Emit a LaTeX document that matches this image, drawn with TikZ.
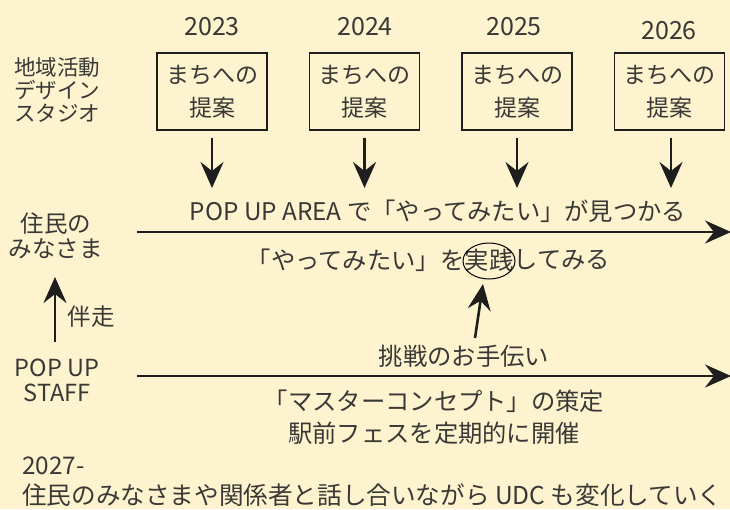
\documentclass[tikz,border=0pt]{standalone}
\usepackage{fontspec}
\setmainfont{Noto Sans CJK JP}
\usetikzlibrary{arrows.meta}
\definecolor{bg}{HTML}{FDF3CE}
\definecolor{ink}{HTML}{3A3836}
\definecolor{stroke}{HTML}{1E1E1E}
\tikzset{
  lbl/.style={text=ink, font=\fontsize{24.3}{26}\selectfont, inner sep=0pt, align=center},
  smalllbl/.style={text=ink, font=\fontsize{21.5}{23}\selectfont, inner sep=0pt, align=left},
  yearlbl/.style={text=ink, font=\fontsize{25}{28}\selectfont, inner sep=0pt},
  propbox/.style={draw=stroke, line width=1.3pt, minimum width=110pt, minimum height=77pt,
    text=ink, font=\fontsize{23}{33}\selectfont, align=center, inner sep=0pt},
  arr/.style={draw=stroke, line width=2.6pt, -{Stealth[length=26pt,width=23pt,inset=9pt]}},
}
\begin{document}
\begin{tikzpicture}[x=1pt,y=-1pt]
  \fill[bg] (0,0) rectangle (730,509);
  \useasboundingbox (0,0) rectangle (730,509);

  % years
  \node[yearlbl] (y1) at (212,27) {2023};
  \node[yearlbl] (y2) at (365,27) {2024};
  \node[yearlbl] (y3) at (514,27) {2025};
  \node[yearlbl] (y4) at (669,30.5) {2026};

  % proposal boxes
  \node[propbox] (b1) at (212,91.5) {まちへの\\提案};
  \node[propbox] (b2) at (364.5,91.5) {まちへの\\提案};
  \node[propbox] (b3) at (517,91.5) {まちへの\\提案};
  \node[propbox] (b4) at (669.5,91.5) {まちへの\\提案};

  \coordinate (t1) at (212,188);
  \coordinate (t2) at (364.5,188);
  \coordinate (t3) at (517,188);
  \coordinate (t4) at (671,188);
  \draw[arr] ([yshift=-7pt]b1.south) -- (t1);
  \draw[arr] ([yshift=-7pt]b2.south) -- (t2);
  \draw[arr] ([yshift=-7pt]b3.south) -- (t3);
  \draw[arr] ([xshift=1.5pt,yshift=-7pt]b4.south) -- (t4);

  % left labels
  \node[smalllbl, anchor=west] (udc) at (14,90) {地域活動\\デザイン\\スタジオ};
  \node[lbl, font=\fontsize{23.5}{25}\selectfont] (res) at (56,235.5) {住民の\\みなさま};
  \node[lbl, font=\fontsize{23.5}{25}\selectfont] (staff) at (57,380) {POP UP\\STAFF};
  \node[lbl, font=\fontsize{23.5}{25}\selectfont] (banso) at (91,317) {伴走};
  \coordinate (bs) at (55,342);
  \coordinate (be) at (55,277);
  \draw[arr] (bs) -- (be);

  % resident timeline
  \coordinate (r1s) at (137,232);
  \coordinate (r1e) at (731,232);
  \draw[arr] (r1s) -- (r1e);
  \node[lbl] (find) at (438,211) {POP UP AREA で「やってみたい」が見つかる};
  \node[lbl] (jissen) at (489,260) {実践};
  \node[lbl, anchor=east] (try1) at (jissen.west) {「やってみたい」を};
  \node[lbl, anchor=west] (try2) at (jissen.east) {してみる};
  \draw[stroke, line width=1pt] (489,261) ellipse (26pt and 18pt);

  % staff timeline
  \coordinate (r2s) at (137,376);
  \coordinate (r2e) at (731,376);
  \draw[arr] (r2s) -- (r2e);
  \node[lbl] (help) at (464,356) {挑戦のお手伝い};
  \coordinate (hs) at (475,338);
  \coordinate (he) at (483,284);
  \draw[arr] (hs) -- (he);
  \node[lbl] (mc) at (434,401) {「マスターコンセプト」の策定};
  \node[lbl] (fes) at (434,433) {駅前フェスを定期的に開催};

  % bottom
  \node[lbl, anchor=west] (y27) at (22,466) {2027-};
  \node[lbl, anchor=west, font=\fontsize{24.6}{26}\selectfont] (future) at (22,495) {住民のみなさまや関係者と話し合いながら UDC も変化していく};
\end{tikzpicture}
\end{document}
